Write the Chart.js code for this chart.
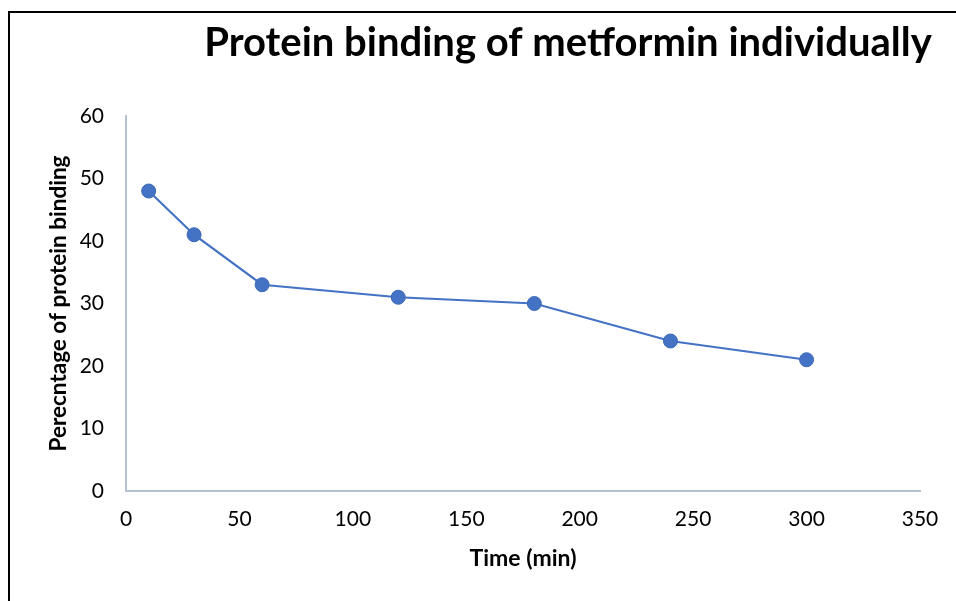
<!DOCTYPE html>
<html>
<head>
<meta charset="utf-8">
<script src="https://cdn.jsdelivr.net/npm/chart.js@4.4.1/dist/chart.umd.min.js"></script>
<style>
  html, body { margin: 0; padding: 0; background: #fff; }
  #wrap { width: 956px; height: 601px; }
</style>
</head>
<body>
<div id="wrap"><canvas id="c" width="956" height="601"></canvas></div>
<script>
// Sampling times (min) and measured protein binding (%)
const timeMin = [10, 30, 60, 120, 180, 240, 300];
const bindingPct = [48, 41, 33, 31, 30, 24, 21];

const chartTitle = 'Protein binding of metformin individually';
const xTitle = 'Time (min)';
const yTitle = 'Perecntage of protein binding';

const xTicks = { min: 0, max: 350, step: 50 };
const yTicks = { min: 0, max: 60, step: 10 };

const FONT = 'Lato, "Open Sans", "Liberation Sans", sans-serif';
const AXIS_COLOR = '#b6c1d4';
const SERIES_COLOR = '#4472C4';

// Frame, main title and axis titles drawn around the plot area
const decorations = {
  id: 'decorations',
  beforeDraw(chart) {
    const ctx = chart.ctx;
    ctx.save();
    ctx.fillStyle = '#ffffff';
    ctx.fillRect(0, 0, chart.width, chart.height);
    ctx.strokeStyle = '#000000';
    ctx.lineWidth = 2;
    ctx.beginPath();
    ctx.moveTo(9, chart.height + 2);
    ctx.lineTo(9, 12);
    ctx.lineTo(chart.width + 2, 12);
    ctx.stroke();
    ctx.restore();
  },
  afterDraw(chart) {
    const ctx = chart.ctx;
    const area = chart.chartArea;
    ctx.save();
    ctx.fillStyle = '#000000';

    ctx.font = 'bold 40px ' + FONT;
    ctx.textAlign = 'center';
    ctx.textBaseline = 'alphabetic';
    ctx.fillText(chartTitle, 568, 56);

    ctx.font = 'bold 23px ' + FONT;
    ctx.fillText(xTitle, (area.left + area.right) / 2, 566);

    ctx.translate(66, (area.top + area.bottom) / 2);
    ctx.rotate(-Math.PI / 2);
    ctx.font = 'bold 22.5px ' + FONT;
    ctx.fillText(yTitle, 0, 0);
    ctx.restore();
  }
};

new Chart(document.getElementById('c'), {
  type: 'scatter',
  data: {
    datasets: [{
      data: timeMin.map((t, i) => ({ x: t, y: bindingPct[i] })),
      showLine: true,
      borderColor: SERIES_COLOR,
      borderWidth: 2.2,
      backgroundColor: SERIES_COLOR,
      pointBackgroundColor: SERIES_COLOR,
      pointBorderColor: '#3d69b8',
      pointBorderWidth: 1,
      pointRadius: 7,
      tension: 0
    }]
  },
  options: {
    responsive: false,
    animation: false,
    devicePixelRatio: 1,
    layout: { padding: { top: 116, right: 36, bottom: 0, left: 0 } },
    plugins: {
      legend: { display: false },
      title: { display: false },
      tooltip: { enabled: false }
    },
    scales: {
      x: {
        type: 'linear',
        min: xTicks.min,
        max: xTicks.max,
        grid: { display: false, drawTicks: false, tickLength: 0 },
        border: { display: true, color: AXIS_COLOR, width: 2 },
        ticks: {
          stepSize: xTicks.step,
          color: '#000',
          padding: 16,
          font: { family: FONT, size: 21 },
          maxRotation: 0
        },
        afterFit(scale) { scale.height = 110; }
      },
      y: {
        type: 'linear',
        min: yTicks.min,
        max: yTicks.max,
        grid: { display: false, drawTicks: false, tickLength: 0 },
        border: { display: true, color: AXIS_COLOR, width: 2 },
        ticks: {
          stepSize: yTicks.step,
          color: '#000',
          padding: 22,
          font: { family: FONT, size: 21 }
        },
        afterFit(scale) { scale.width = 126; }
      }
    }
  },
  plugins: [decorations]
});
</script>
</body>
</html>
